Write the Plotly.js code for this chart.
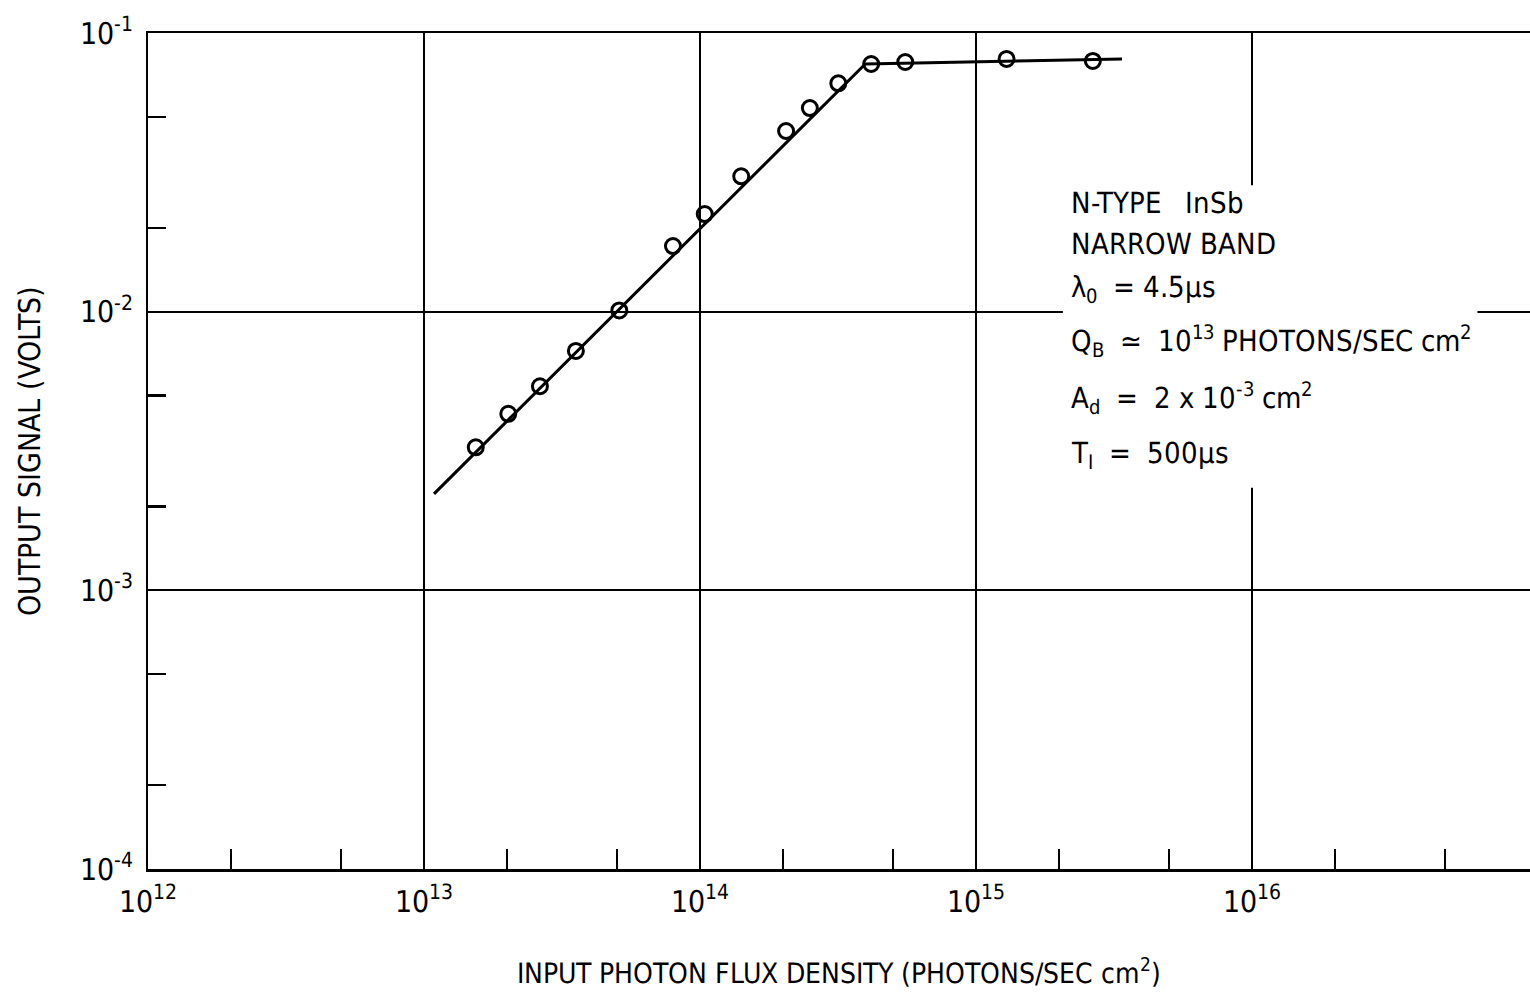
<!DOCTYPE html>
<html>
<head>
<meta charset="utf-8">
<script src="https://cdn.plot.ly/plotly-3.0.1.min.js"></script>
<style>
@font-face { font-family: 'CondX'; src: local('Liberation Sans Narrow'), local('LiberationSansNarrow-Regular'), local('DejaVu Sans Condensed'), local('DejaVuSansCondensed'); }
html,body{margin:0;padding:0;background:#fff;}#chart{width:1530px;height:1000px;}
</style>
</head>
<body>
<div id="chart"></div>
<script>
// Measured points (input photon flux density, output signal)
var fluxPts = [1.54e13, 2.02e13, 2.63e13, 3.55e13, 5.1e13, 7.98e13, 1.04e14, 1.41e14, 2.05e14, 2.5e14, 3.17e14, 4.17e14, 5.54e14, 1.29e15, 2.65e15];
var signalPts = [3.26e-3, 4.30e-3, 5.40e-3, 7.23e-3, 1.01e-2, 1.72e-2, 2.24e-2, 3.06e-2, 4.45e-2, 5.38e-2, 6.6e-2, 7.74e-2, 7.87e-2, 8.07e-2, 7.94e-2];
// Fitted curve
var fitFlux = [1.087e13, 3.97e14, 3.38e15];
var fitSignal = [2.22e-3, 7.74e-2, 8.07e-2];
// Axis ticks
var xMajor = [1e12, 1e13, 1e14, 1e15, 1e16];
var xMajorText = ['10<sup>12</sup>', '10<sup>13</sup>', '10<sup>14</sup>', '10<sup>15</sup>', '10<sup>16</sup>'];
var xMinor = [2e12, 5e12, 2e13, 5e13, 2e14, 5e14, 2e15, 5e15, 2e16, 5e16];
var yMajor = [1e-4, 1e-3, 1e-2, 1e-1];
var yMajorText = ['10<sup>-4</sup>', '10<sup>-3</sup>', '10<sup>-2</sup>', '10<sup>-1</sup>'];
var yMinor = [2e-4, 5e-4, 2e-3, 5e-3, 2e-2, 5e-2];
// Legend box text
var noteLines = [
  'N-TYPE   InSb',
  'NARROW BAND',
  'λ<sub>0</sub>  = 4.5μs',
  'Q<sub>B</sub>  ≃  10<sup>13</sup> PHOTONS/SEC cm<sup>2</sup>',
  'A<sub>d</sub>  =  2 x 10<sup>-3</sup> cm<sup>2</sup>',
  'T<sub>I</sub>  =  500μs'
];
var noteY = [0.797, 0.748, 0.694, 0.631, 0.563, 0.495];

var FONT = 'CondX, "DejaVu Sans Condensed", "Liberation Sans", sans-serif';

function draw() {
  var traces = [
    {x: fitFlux, y: fitSignal, mode: 'lines', line: {color: '#000', width: 3}, hoverinfo: 'skip', showlegend: false},
    {x: fluxPts, y: signalPts, mode: 'markers', marker: {symbol: 'circle-open', size: 15, color: '#000', line: {width: 3, color: '#000'}}, showlegend: false}
  ];

  var annotations = noteLines.map(function (t, i) {
    return {xref: 'paper', yref: 'paper', x: 0.6664, y: noteY[i], xanchor: 'left', yanchor: 'middle',
      text: t, showarrow: false, align: 'left', font: {family: FONT, size: 29, color: '#000'}};
  });

  var layout = {
    width: 1530, height: 1000,
    margin: {l: 148, r: 0, t: 33, b: 131},
    paper_bgcolor: '#fff', plot_bgcolor: '#fff',
    font: {family: FONT, color: '#000'},
    showlegend: false,
    xaxis: {
      type: 'log', range: [12, 17.007],
      tickmode: 'array', tickvals: xMajor, ticktext: xMajorText,
      ticks: '', tickfont: {size: 30, family: FONT}, ticklabelstandoff: 4,
      showgrid: true, gridcolor: '#000', gridwidth: 2,
      showline: true, linecolor: '#000', linewidth: 2.5, mirror: true,
      zeroline: false,
      minor: {tickmode: 'array', tickvals: xMinor, ticks: 'inside', ticklen: 20, tickwidth: 2.5, tickcolor: '#000', showgrid: false},
      title: {text: 'INPUT PHOTON FLUX DENSITY (PHOTONS/SEC cm<sup>2</sup>)', font: {size: 27.8, family: FONT}, standoff: 46}
    },
    yaxis: {
      type: 'log', range: [-4, -1],
      tickmode: 'array', tickvals: yMajor, ticktext: yMajorText,
      ticks: '', tickfont: {size: 30, family: FONT}, ticklabelstandoff: 7,
      showgrid: true, gridcolor: '#000', gridwidth: 2,
      showline: true, linecolor: '#000', linewidth: 2.5, mirror: false,
      zeroline: false,
      minor: {tickmode: 'array', tickvals: yMinor, ticks: 'inside', ticklen: 18, tickwidth: 2.5, tickcolor: '#000', showgrid: false},
      title: {text: 'OUTPUT SIGNAL (VOLTS)', font: {size: 30, family: FONT}, standoff: 30}
    },
    shapes: [
      {type: 'rect', xref: 'paper', yref: 'paper', x0: 0.662, x1: 0.962, y0: 0.456, y1: 0.818,
       fillcolor: '#fff', line: {width: 0}, layer: 'above'}
    ],
    annotations: annotations
  };

  Plotly.newPlot('chart', traces, layout, {displayModeBar: false, staticPlot: true});
}

if (document.fonts && document.fonts.load) {
  document.fonts.load('30px CondX').then(draw, draw);
} else {
  draw();
}
</script>
</body>
</html>
